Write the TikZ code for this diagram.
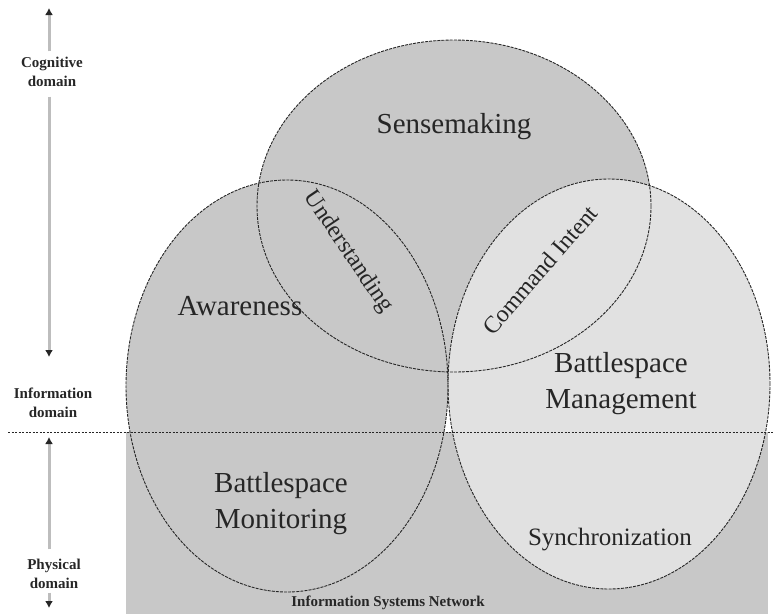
\documentclass[tikz,border=0pt]{standalone}
\usepackage{fontspec}
\setmainfont{Liberation Serif}
\usetikzlibrary{arrows.meta}
\definecolor{midgray}{HTML}{C8C8C8}
\definecolor{lightgray2}{HTML}{E1E1E1}
\definecolor{ink}{HTML}{262626}
\definecolor{arrowgray}{HTML}{BDBDBD}
\tikzset{
  outline/.style={draw=ink, line width=0.9pt, dash pattern=on 3pt off 1.1pt},
  biglabel/.style={text=ink, font=\fontsize{29}{36}\selectfont, align=center, inner sep=0pt},
  midlabel/.style={text=ink, font=\fontsize{24}{29}\selectfont, inner sep=0pt},
  sidelabel/.style={text=ink, font=\bfseries\fontsize{15}{18.5}\selectfont, align=center, inner sep=0pt},
  domarrow/.style={draw=arrowgray, line width=3pt, -{Latex[length=7pt,width=8pt,color=ink]}}
}
\begin{document}
\begin{tikzpicture}[x=1pt,y=-1pt]
\useasboundingbox (0,0) rectangle (774,614);
% background physical region
\fill[midgray] (126,432) rectangle (768,614);
% ellipses fills
\fill[midgray] (454,206) ellipse [x radius=197pt, y radius=166pt];
\fill[midgray] (287,386) ellipse [x radius=161pt, y radius=206pt];
\fill[lightgray2] (609,384) ellipse [x radius=161pt, y radius=205pt];
% outlines
\draw[outline] (454,206) ellipse [x radius=197pt, y radius=166pt];
\draw[outline] (287,386) ellipse [x radius=161pt, y radius=206pt];
\draw[outline] (609,384) ellipse [x radius=161pt, y radius=205pt];
% domain boundary
\draw[ink, line width=0.9pt, dash pattern=on 2.2pt off 1.3pt] (8,432) -- (774,432);
% labels
\node[biglabel] (sense) at (454,127) {Sensemaking};
\node[biglabel] (aware) at (240,306) {Awareness};
\node[midlabel, rotate=-56] (under) at (348,252) {Understanding};
\node[midlabel, rotate=49] (intent) at (540,270) {Command Intent};
\node[biglabel] (bman) at (621,384) {Battlespace\\Management};
\node[biglabel] (bmon) at (281,504) {Battlespace\\Monitoring};
\node[text=ink, font=\fontsize{25}{30}\selectfont, inner sep=0pt] (sync) at (610,540) {Synchronization};
\node[text=ink, font=\bfseries\fontsize{15}{18}\selectfont, inner sep=0pt] (isn) at (388,603) {Information Systems Network};
% side labels
\node[sidelabel] (cog) at (52,72) {Cognitive\\domain};
\node[sidelabel] (info) at (53,403) {Information\\domain};
\node[sidelabel] (phys) at (54,574) {Physical\\domain};
\coordinate (toptip) at (49,8);
\coordinate (infotop) at (49,357);
\coordinate (infobot) at (49,437);
\coordinate (bottip) at (49,608);
\draw[domarrow] (cog.north -| toptip) ++(0,-6) -- (toptip);
\draw[domarrow] (cog.south -| toptip) ++(0,10) -- (infotop);
\draw[domarrow] (phys.north -| toptip) ++(0,-10) -- (infobot);
\draw[domarrow] (phys.south -| toptip) ++(0,4) -- (bottip);
\end{tikzpicture}
\end{document}
